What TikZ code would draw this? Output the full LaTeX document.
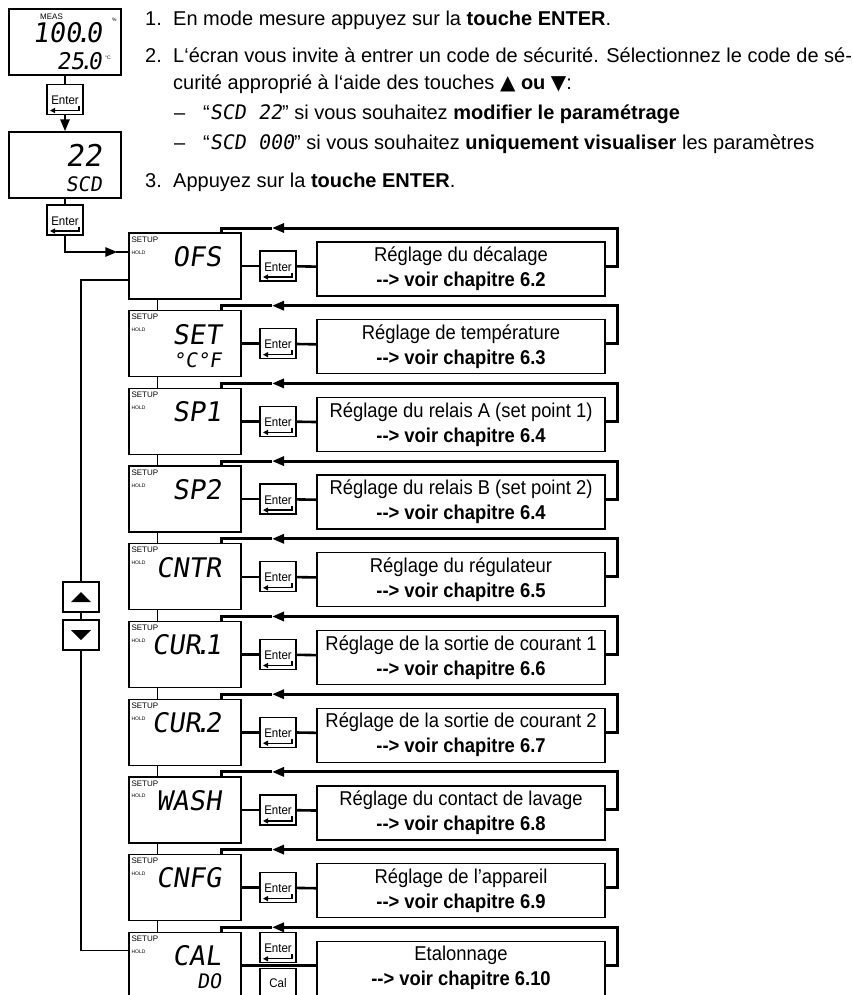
\documentclass[tikz,border=0pt]{standalone}
\usepackage{fontspec}
\setmainfont{Liberation Sans}
\newfontfamily\rowfont{Liberation Sans}[FakeStretch=0.92]
\newfontfamily\lcdfont{DejaVu Sans Mono}[FakeSlant=0.15]
\newfontfamily\symfont{DejaVu Sans}
\usetikzlibrary{arrows.meta}
\newcommand{\lcddot}{\kern-.22em.\kern-.22em}

\begin{document}
\begin{tikzpicture}[x=1pt,y=-1pt,
    framed/.style={draw, line width=1.3pt, fill=white, inner sep=0pt},
    lcdbox/.style={framed, minimum width=112pt, minimum height=66pt},
    keybox/.style={framed, minimum width=36pt, minimum height=30pt, font=\rowfont\fontsize{12.5}{12.5}\selectfont},
    enterbox/.style={keybox, text height=13pt, text depth=3pt, path picture={
        \draw[black, line width=1.3pt, -{Triangle[length=5pt,width=5pt]}]
          ([shift={(-4pt,8.5pt)}]path picture bounding box.south east)
          |- ([shift={(3pt,4pt)}]path picture bounding box.south west);}},
    infobox/.style={framed, minimum width=288pt, minimum height=54pt, align=center, font=\rowfont\fontsize{20}{25}\selectfont},
    thickline/.style={line width=2.6pt},
    backline/.style={line width=3pt},
    thinline/.style={line width=1.3pt},
    headtip/.style={-{Triangle[length=12pt,width=9pt]}},
    tagtext/.style={font=\fontsize{8}{8}\selectfont, inner sep=0pt, anchor=west},
    tinytext/.style={font=\fontsize{5}{5}\selectfont, inner sep=0pt, anchor=west},
    lcdtext/.style={font=\lcdfont\fontsize{27}{27}\selectfont, inner sep=0pt, anchor=base east},
    lcdsmall/.style={lcdtext, font=\lcdfont\fontsize{20}{20}\selectfont},
    linetext/.style={font=\fontsize{20}{24}\selectfont, inner sep=0pt, anchor=base west}]
  \clip (0,0) rectangle (852,995);

  % Consignes
  \node[linetext] (n1) at (145,26) {1.};
  \node[linetext] (t1) at (173,26) {En mode mesure appuyez sur la \textbf{touche ENTER}.};
  \node[linetext] (n2) at (145,63) {2.};
  \node[linetext] (t2a) at (173,63) {L\symbol{96}écran vous invite à entrer un code de sécurité. Sélectionnez le code de sé-};
  \node[linetext] (t2b) at (173,90) {curité approprié à l\symbol{96}aide des touches {\symfont▲} \textbf{ou} {\symfont▼}:};
  \node[linetext] (dash1) at (174,120) {–};
  \node[linetext] (t2c) at (203,120) {“{\lcdfont SCD 22}” si vous souhaitez \textbf{modifier le paramétrage}};
  \node[linetext] (dash2) at (174,150) {–};
  \node[linetext] (t2d) at (203,150) {“{\lcdfont SCD 000}” si vous souhaitez \textbf{uniquement visualiser} les paramètres};
  \node[linetext] (n3) at (145,187) {3.};
  \node[linetext] (t3) at (173,187) {Appuyez sur la \textbf{touche ENTER}.};

  % Ecrans de depart
  \node[lcdbox] (d1) at (65,42) {};
  \node[tagtext] (meas) at (40,16.5) {MEAS};
  \node[lcdtext] (v1) at (102,43) {100\lcddot0};
  \node[lcdtext, font=\lcdfont\fontsize{23}{23}\selectfont] (v2) at (102,70) {25\lcddot0};
  \node[tinytext] (pct) at (112,20) {\%};
  \node[tinytext] (degc) at (105,58) {°C};
  \node[enterbox] (e1) at (65,99.5) {Enter};
  \node[lcdbox] (d2) at (65,165) {};
  \node[lcdtext, font=\lcdfont\fontsize{30}{30}\selectfont] (code) at (102,167) {22};
  \node[lcdsmall] (scd) at (102,192) {SCD};
  \node[enterbox] (e2) at (65,220) {Enter};

  \draw[thickline] (d1.south) -- (e1.north);
  \draw[thickline, headtip] (e1.south) -- (d2.north);
  \draw[thickline] (d2.south) -- (e2.north);

  % Menu de configuration
  \foreach \i/\code/\sub/\txt/\ch in {1/OFS/{}/Réglage du décalage/6.2,
      2/SET/°C°F/Réglage de température/6.3,
      3/SP1/{}/Réglage du relais A (set point 1)/6.4,
      4/SP2/{}/Réglage du relais B (set point 2)/6.4,
      5/CNTR/{}/Réglage du régulateur/6.5,
      6/CUR\lcddot1/{}/Réglage de la sortie de courant 1/6.6,
      7/CUR\lcddot2/{}/Réglage de la sortie de courant 2/6.7,
      8/WASH/{}/Réglage du contact de lavage/6.8,
      9/CNFG/{}/Réglage de l’appareil/6.9,
      10/CAL/DO/Etalonnage/6.10} {
    \pgfmathsetmacro\rowy{233+77.7*(\i-1)}
    \node[lcdbox] (l\i) at (185,\rowy+33) {};
    \node[tagtext] (su\i) at ([shift={(3pt,-7pt)}]l\i.north west) {SETUP};
    \node[tinytext] (ho\i) at ([shift={(3pt,-20pt)}]l\i.north west) {HOLD};
    \node[lcdtext] (c\i) at ([shift={(93pt,-34pt)}]l\i.north west) {\code};
    \node[lcdsmall] (s\i) at ([shift={(93pt,-57pt)}]l\i.north west) {\sub};
    \node[infobox] (t\i) at (461,\rowy+36) {\txt\\\textbf{-{}-> voir chapitre \ch}};
    \ifnum\i<10
      \node[enterbox] (k\i) at (278,\rowy+33) {Enter};
      \draw[thickline] (l\i) -- (k\i);
      \draw[thickline] (k\i) -- (t\i);
    \else
      \node[enterbox] (k\i) at (278,\rowy+15.5) {Enter};
      \node[keybox] (cal) at (278,\rowy+51) {Cal};
      \draw[thickline] (l\i.east) -- (l\i.east -| t\i.west);
    \fi
    % Retour vers l'ecran
    \coordinate (b\i) at (272,\rowy-5);
    \draw[backline, headtip] (l\i.east -| t\i.east) -- ++(12,0) |- (b\i);
    \draw[backline] (b\i) -| ([xshift=-20pt]l\i.north east);
  }
  \foreach \i [count=\j from 2] in {1,...,9}
    \draw[thinline] ([xshift=29pt]l\i.south west) -- ([xshift=29pt]l\j.north west);

  \draw[thickline, headtip] (e2.south) |- ([xshift=-11pt,yshift=14pt]l1.west);
  \draw[thickline] ([xshift=-12pt,yshift=14pt]l1.west) -- ([yshift=14pt]l1.west);

  % Touches haut / bas
  \node[keybox, path picture={\fill[black] ([shift={(-10pt,-5pt)}]path picture bounding box.center)
      -- ++(20pt,0pt) -- ++(-10pt,10pt) -- cycle;}] (up) at (81,597) {};
  \node[keybox, path picture={\fill[black] ([shift={(-10pt,5pt)}]path picture bounding box.center)
      -- ++(20pt,0pt) -- ++(-10pt,-10pt) -- cycle;}] (dn) at (81,635) {};
  \draw[thinline] ([yshift=-14pt]l1.west) -| (up.north);
  \draw[thinline] (up.south) -- (dn.north);
  \draw[thinline] (dn.south) |- ([yshift=15pt]l10.west);
\end{tikzpicture}
\end{document}
